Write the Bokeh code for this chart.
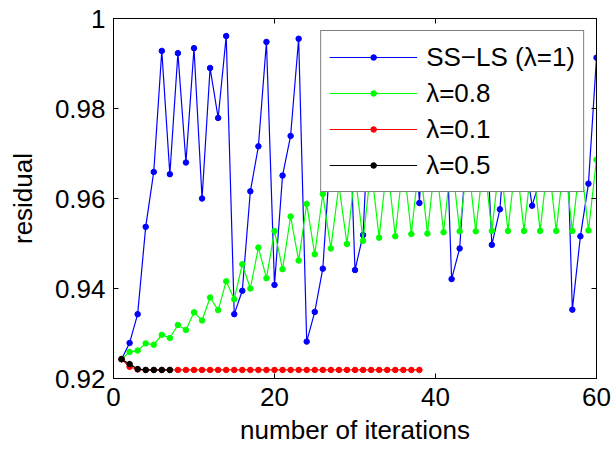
from bokeh.plotting import figure
from bokeh.models import (FixedTicker, LinearAxis, Legend, LegendItem,
                          CustomJSTickFormatter, Range1d)
from bokeh.embed import file_html
from bokeh.resources import INLINE

# ---- data ----
iters_ss = list(range(1, 61))
res_ss = [0.9243, 0.9279, 0.9343, 0.9537, 0.9659, 0.9928, 0.9654, 0.9923, 0.9680, 0.9934,
          0.9600, 0.9890, 0.9779, 0.9961, 0.9343, 0.9395, 0.9616, 0.9716, 0.9948, 0.9408,
          0.9651, 0.9739, 0.9955, 0.9282, 0.9348, 0.9444, 0.9715, 0.9850, 0.9950, 0.9441,
          0.9519, 0.9890, 0.9750, 0.9930, 0.9700, 0.9840, 0.9920, 0.9590, 0.9900, 0.9720,
          0.9940, 0.9421, 0.9489, 0.9756, 0.9920, 0.9884, 0.9497, 0.9576, 0.9808, 0.9680,
          0.9704, 0.9584, 0.9643, 0.9850, 0.9750, 0.9950, 0.9353, 0.9516, 0.9633, 0.9913]

iters_08 = list(range(1, 61))
res_08 = [0.9243, 0.9259, 0.9262, 0.9278, 0.9275, 0.9297, 0.9290, 0.9319, 0.9308, 0.9347,
          0.9329, 0.9380, 0.9352, 0.9416, 0.9376, 0.9454, 0.9400, 0.9491, 0.9423, 0.9528,
          0.9443, 0.9560, 0.9462, 0.9588, 0.9476, 0.9610, 0.9489, 0.9630, 0.9499, 0.9655,
          0.9506, 0.9670, 0.9513, 0.9680, 0.9516, 0.9685, 0.9521, 0.9688, 0.9522, 0.9690,
          0.9525, 0.9690, 0.9527, 0.9690, 0.9527, 0.9690, 0.9528, 0.9690, 0.9528, 0.9690,
          0.9528, 0.9690, 0.9528, 0.9690, 0.9528, 0.9690, 0.9528, 0.9690, 0.9529, 0.9686]

iters_01 = list(range(1, 39))
res_01 = [0.9243, 0.9226, 0.9220, 0.9219, 0.9219, 0.9219, 0.9219, 0.9219, 0.9219, 0.9219,
          0.9219, 0.9219, 0.9219, 0.9219, 0.9219, 0.9219, 0.9219, 0.9219, 0.9219, 0.9219,
          0.9219, 0.9219, 0.9219, 0.9219, 0.9219, 0.9219, 0.9219, 0.9219, 0.9219, 0.9219,
          0.9219, 0.9219, 0.9219, 0.9219, 0.9219, 0.9219, 0.9219, 0.9219]

iters_05 = list(range(1, 8))
res_05 = [0.9243, 0.9232, 0.9221, 0.9219, 0.9219, 0.9219, 0.9219]

labels = ["SS\u2212LS (\u03bb=1)", "\u03bb=0.8", "\u03bb=0.1", "\u03bb=0.5"]
colors = ["#0000ff", "#00ff00", "#ff0000", "#000000"]

x_ticks = [0, 20, 40, 60]
y_ticks = [0.92, 0.94, 0.96, 0.98, 1.0]

FONT = "Liberation Sans"
FS = "26px"

p = figure(width=615, height=450, output_backend="svg", toolbar_location=None,
           x_range=Range1d(0, 60), y_range=Range1d(0.92, 1.0),
           min_border_left=113, min_border_right=19, min_border_top=18,
           min_border_bottom=72)
p.background_fill_color = "white"
p.border_fill_color = "white"
p.grid.visible = False
p.outline_line_color = "black"
p.outline_line_width = 1

fmt = CustomJSTickFormatter(code="return String(Math.round(tick*100)/100);")
blank = CustomJSTickFormatter(code="return '';")

def style_axis(ax, ticks, show_labels=True):
    ax.ticker = FixedTicker(ticks=ticks)
    ax.axis_line_color = "black"
    ax.major_tick_line_color = "black"
    ax.major_tick_in = 5
    ax.major_tick_out = 0
    ax.minor_tick_line_color = None
    ax.major_label_text_font = FONT
    ax.major_label_text_color = "black"
    ax.axis_label_text_font = FONT
    ax.axis_label_text_font_style = "normal"
    ax.axis_label_text_color = "black"
    ax.axis_label_text_font_size = FS
    if show_labels:
        ax.formatter = fmt
        ax.major_label_text_font_size = FS
    else:
        ax.formatter = blank
        ax.major_label_text_font_size = "1px"
        ax.major_label_standoff = 0

style_axis(p.xaxis[0], x_ticks)
style_axis(p.yaxis[0], y_ticks)
p.xaxis.axis_label = "number of iterations"
p.yaxis.axis_label = "residual"
p.xaxis.major_label_standoff = 9
p.yaxis.major_label_standoff = 8
p.xaxis.axis_label_standoff = 6
p.yaxis.axis_label_standoff = 14

top_ax = LinearAxis()
style_axis(top_ax, x_ticks, show_labels=False)
p.add_layout(top_ax, "above")
right_ax = LinearAxis()
style_axis(right_ax, y_ticks, show_labels=False)
p.add_layout(right_ax, "right")

series = [(iters_ss, res_ss), (iters_08, res_08), (iters_01, res_01), (iters_05, res_05)]
items = []
for (xs, ys), lab, col in zip(series, labels, colors):
    ln = p.line(xs, ys, line_color=col, line_width=1.2)
    sc = p.scatter(xs, ys, marker="circle", size=5.5, fill_color=col, line_color=col)
    items.append(LegendItem(label=lab, renderers=[ln, sc]))

legend = Legend(items=items, location="top_right")
legend.margin = 12
legend.padding = 8
legend.spacing = 0
legend.glyph_width = 88
legend.glyph_height = 14
legend.label_height = 36
legend.label_standoff = 9
legend.label_text_font = FONT
legend.label_text_font_size = FS
legend.label_text_color = "black"
legend.border_line_color = "black"
legend.border_line_width = 1
legend.background_fill_color = "white"
legend.background_fill_alpha = 1.0
p.add_layout(legend, "center")

open("out.html", "w").write(file_html(p, INLINE))
